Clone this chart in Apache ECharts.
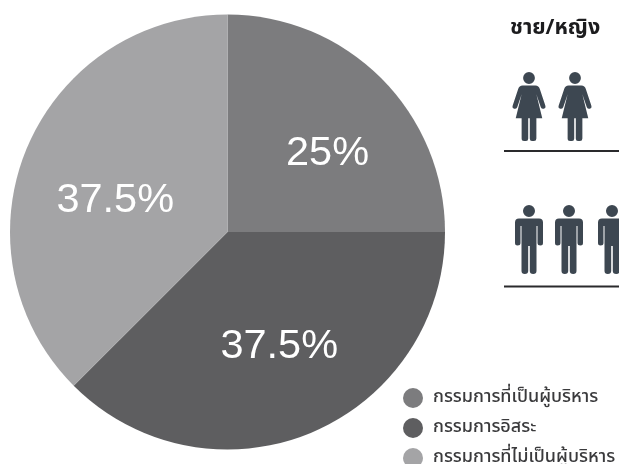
<!DOCTYPE html>
<html><head><meta charset="utf-8">
<style>html,body{margin:0;padding:0;background:#fff}#c{width:619px;height:464px}</style>
<script src="https://cdn.jsdelivr.net/npm/echarts@6/dist/echarts.min.js"></script>
</head><body><div id="c"></div>
<script>
const categories = ['กรรมการที่เป็นผู้บริหาร','กรรมการอิสระ','กรรมการที่ไม่เป็นผู้บริหาร'];
const shares = [25, 37.5, 37.5];
const shareLabels = ['25%','37.5%','37.5%'];
const sliceColors = ['#7c7c7e','#5e5e60','#a4a4a6'];
const labelOffsets = [[21,1],[9,11],[-9,11]];
const genderTitle = 'ชาย/หญิง';
const femaleX = [529,575];
const maleX = [529,569,612];
const iconColor = '#3d4751';
const thaiFont = '"Noto Sans Thai","Noto Sans","Noto Sans CJK SC","DejaVu Sans",sans-serif';

const head = 'M-6,6a6,6 0 1,0 12,0a6,6 0 1,0 -12,0Z';
const femalePath = head + 'M-6.5,13.5L6.5,13.5Q10,13.5 11,17L16.5,33Q17.5,36 15,36.5Q13,37 12,35L7.5,22L13.5,46L7.5,46L7.5,66Q7.5,68.5 5,68.5L3,68.5Q0.8,68.5 0.8,66L0.8,46L-0.8,46L-0.8,66Q-0.8,68.5 -3,68.5L-5,68.5Q-7.5,68.5 -7.5,66L-7.5,46L-13.5,46L-7.5,22L-12,35Q-13,37 -15,36.5Q-17.5,36 -16.5,33L-11,17Q-10,13.5 -6.5,13.5Z';
const malePath = head + 'M-10,13.5L10,13.5Q14,13.5 14,17.5L14,38Q14,40.5 11.5,40.5Q8.5,40.5 8.5,38L8.5,21L7.5,21L7.5,66Q7.5,69 4.2,69Q0.8,69 0.8,66L0.8,41L-0.8,41L-0.8,66Q-0.8,69 -4.2,69Q-7.5,69 -7.5,66L-7.5,21L-8.5,21L-8.5,38Q-8.5,40.5 -11.5,40.5Q-14,40.5 -14,38L-14,17.5Q-14,13.5 -10,13.5Z';

const icons = [
  ...femaleX.map(x => ({path:femalePath, cx:x, top:72, w:33, h:69})),
  ...maleX.map(x => ({path:malePath, cx:x, top:205, w:28, h:69}))
];

const chart = echarts.init(document.getElementById('c'), null, {renderer:'canvas'});
chart.setOption({
  animation:false,
  backgroundColor:'#fff',
  title:{text:genderTitle, left:505, top:14, textStyle:{fontFamily:thaiFont,fontSize:21.5,fontWeight:'bold',color:'#1c1c1e'}},
  legend:{
    orient:'vertical', left:403, top:388, height:120, padding:0, itemWidth:24, itemHeight:20, itemGap:10, icon:'circle',
    selectedMode:false, data:categories,
    textStyle:{fontFamily:thaiFont,fontSize:18,fontWeight:500,color:'#3a3a3c',padding:[0,0,0,3]}
  },
  graphic:[
    {type:'rect', shape:{x:504,y:150,width:115,height:2}, style:{fill:'#2a2a2c'}},
    {type:'rect', shape:{x:504,y:285.5,width:115,height:2}, style:{fill:'#2a2a2c'}}
  ],
  series:[{
    type:'pie', center:[227.5,232], radius:[0,217.5], startAngle:90, clockwise:true,
    label:{position:'inside',formatter:p=>shareLabels[p.dataIndex],color:'#fff',fontFamily:'"Liberation Sans",Arial,sans-serif',fontSize:41.5},
    labelLine:{show:false}, emphasis:{disabled:true}, silent:true,
    data:categories.map((name,i)=>({name,value:shares[i],itemStyle:{color:sliceColors[i]},label:{offset:labelOffsets[i]}}))
  },{
    type:'custom', coordinateSystem:'none', silent:true, data:icons.map((_,i)=>i),
    renderItem:(params)=>{
      const k = icons[params.dataIndex];
      return {type:'path', shape:{pathData:k.path, layout:'cover', x:k.cx-k.w/2, y:k.top, width:k.w, height:k.h}, style:{fill:iconColor}};
    }
  }]
});
</script></body></html>
